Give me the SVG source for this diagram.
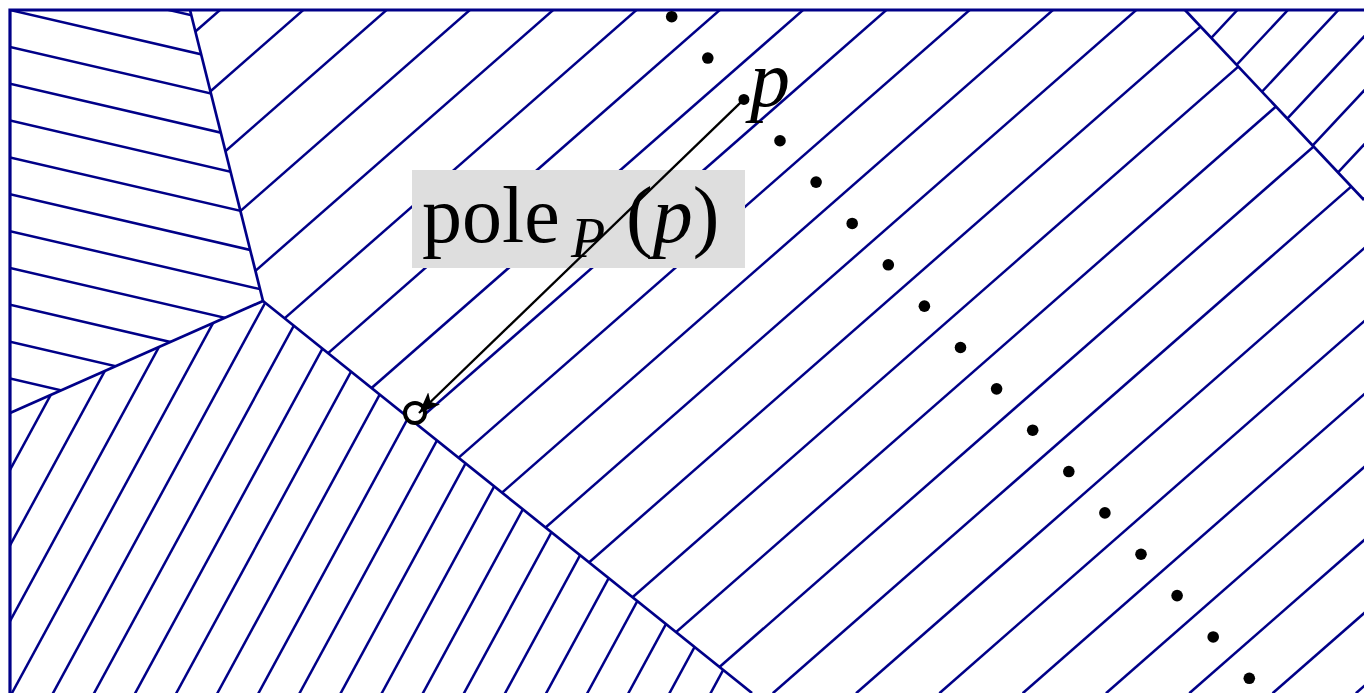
<svg xmlns="http://www.w3.org/2000/svg" width="1364" height="693" viewBox="0 0 1364 693">
<style>
.h{stroke:#000088;stroke-width:2.5;fill:none}
.b{stroke:#000088;stroke-width:2.7;fill:none}
.fr{stroke:#000088;stroke-width:3.2;fill:none}
.t{font-family:"Liberation Serif","Times New Roman",serif;fill:#000}
.dot{fill:#000}
</style>
<defs>
<clipPath id="cR1"><polygon points="10,10 190,10 263,301 10,413"/></clipPath>
<clipPath id="cR2"><polygon points="190,10 1185,10 1364,200 1364,693 752,693 263,301"/></clipPath>
<clipPath id="cR3"><polygon points="10,413 263,301 752,693 10,693"/></clipPath>
<clipPath id="cR4"><polygon points="1185,10 1364,10 1364,200"/></clipPath>
<marker id="ah" markerUnits="userSpaceOnUse" markerWidth="24" markerHeight="18" refX="21" refY="8.5" orient="auto">
<path d="M0,0 L21,8.5 L0,17 L5,8.5 Z" fill="#000"/>
</marker>
</defs>
<rect width="1364" height="693" fill="#fff"/>
<g id="region1" class="h" clip-path="url(#cR1)">
<line x1="10" y1="-26.85" x2="280" y2="35.79"/>
<line x1="10" y1="10" x2="280" y2="72.64"/>
<line x1="10" y1="46.85" x2="280" y2="109.49"/>
<line x1="10" y1="83.7" x2="280" y2="146.34"/>
<line x1="10" y1="120.55" x2="280" y2="183.19"/>
<line x1="10" y1="157.4" x2="280" y2="220.04"/>
<line x1="10" y1="194.25" x2="280" y2="256.89"/>
<line x1="10" y1="231.1" x2="280" y2="293.74"/>
<line x1="10" y1="267.95" x2="280" y2="330.59"/>
<line x1="10" y1="304.8" x2="280" y2="367.44"/>
<line x1="10" y1="341.65" x2="280" y2="404.29"/>
<line x1="10" y1="378.5" x2="280" y2="441.14"/>
</g>
<g id="region2" class="h" clip-path="url(#cR2)">
<line x1="231.4" y1="0" x2="-560" y2="693.3"/>
<line x1="314.7" y1="0" x2="-476.7" y2="693.3"/>
<line x1="398" y1="0" x2="-393.4" y2="693.3"/>
<line x1="481.3" y1="0" x2="-310.1" y2="693.3"/>
<line x1="564.6" y1="0" x2="-226.8" y2="693.3"/>
<line x1="647.9" y1="0" x2="-143.5" y2="693.3"/>
<line x1="731.2" y1="0" x2="-60.2" y2="693.3"/>
<line x1="814.5" y1="0" x2="23.1" y2="693.3"/>
<line x1="897.8" y1="0" x2="106.4" y2="693.3"/>
<line x1="981.1" y1="0" x2="189.7" y2="693.3"/>
<line x1="1064.4" y1="0" x2="273" y2="693.3"/>
<line x1="1147.7" y1="0" x2="356.3" y2="693.3"/>
<line x1="1231" y1="0" x2="439.6" y2="693.3"/>
<line x1="1314.3" y1="0" x2="522.9" y2="693.3"/>
<line x1="1397.6" y1="0" x2="606.2" y2="693.3"/>
<line x1="1480.9" y1="0" x2="689.5" y2="693.3"/>
<line x1="1564.2" y1="0" x2="772.8" y2="693.3"/>
<line x1="1647.5" y1="0" x2="856.1" y2="693.3"/>
<line x1="1730.8" y1="0" x2="939.4" y2="693.3"/>
<line x1="1814.1" y1="0" x2="1022.7" y2="693.3"/>
<line x1="1897.4" y1="0" x2="1106" y2="693.3"/>
<line x1="1980.7" y1="0" x2="1189.3" y2="693.3"/>
<line x1="2064" y1="0" x2="1272.6" y2="693.3"/>
<line x1="2147.3" y1="0" x2="1355.9" y2="693.3"/>
</g>
<g id="region3" class="h" clip-path="url(#cR3)">
<line x1="-114.3" y1="698.5" x2="113.7" y2="279"/>
<line x1="-73.2" y1="698.5" x2="154.8" y2="279"/>
<line x1="-32.1" y1="698.5" x2="195.9" y2="279"/>
<line x1="9" y1="698.5" x2="237" y2="279"/>
<line x1="50.1" y1="698.5" x2="278.1" y2="279"/>
<line x1="91.2" y1="698.5" x2="319.2" y2="279"/>
<line x1="132.3" y1="698.5" x2="360.3" y2="279"/>
<line x1="173.4" y1="698.5" x2="401.4" y2="279"/>
<line x1="214.5" y1="698.5" x2="442.5" y2="279"/>
<line x1="255.6" y1="698.5" x2="483.6" y2="279"/>
<line x1="296.7" y1="698.5" x2="524.7" y2="279"/>
<line x1="337.8" y1="698.5" x2="565.8" y2="279"/>
<line x1="378.9" y1="698.5" x2="606.9" y2="279"/>
<line x1="420" y1="698.5" x2="648" y2="279"/>
<line x1="461.1" y1="698.5" x2="689.1" y2="279"/>
<line x1="502.2" y1="698.5" x2="730.2" y2="279"/>
<line x1="543.3" y1="698.5" x2="771.3" y2="279"/>
<line x1="584.4" y1="698.5" x2="812.4" y2="279"/>
<line x1="625.5" y1="698.5" x2="853.5" y2="279"/>
<line x1="666.6" y1="698.5" x2="894.6" y2="279"/>
<line x1="707.7" y1="698.5" x2="935.7" y2="279"/>
</g>
<g id="region4" class="h" clip-path="url(#cR4)">
<line x1="1247" y1="-0.3" x2="987" y2="277.8"/>
<line x1="1297.5" y1="-0.3" x2="1037.5" y2="277.8"/>
<line x1="1348" y1="-0.3" x2="1088" y2="277.8"/>
<line x1="1398.5" y1="-0.3" x2="1138.5" y2="277.8"/>
<line x1="1449" y1="-0.3" x2="1189" y2="277.8"/>
<line x1="1499.5" y1="-0.3" x2="1239.5" y2="277.8"/>
<line x1="1550" y1="-0.3" x2="1290" y2="277.8"/>
</g>
<g id="boundaries" class="b">
<line x1="190" y1="10" x2="263" y2="301"/>
<line x1="263" y1="301" x2="10" y2="413"/>
<line x1="263" y1="301" x2="752" y2="693"/>
<line x1="1185" y1="10" x2="1364" y2="200"/>
</g>
<path id="frame" class="fr" d="M10,693 V10 H1364"/>
<g id="label">
<rect x="412" y="170" width="333" height="98" fill="#dedede"/>
<text class="t" x="422" y="242" font-size="80">pole</text>
<text class="t" x="571" y="257" font-size="56" font-style="italic">P</text>
<text class="t" x="626" y="242" font-size="80">(<tspan font-style="italic">p</tspan>)</text>
</g>
<g id="pole">
<circle cx="415" cy="413" r="10" fill="#fff" stroke="#000" stroke-width="4"/>
</g>
<g id="connectors">
<line x1="743.9" y1="99.4" x2="419" y2="413" stroke="#000" stroke-width="2.3" marker-end="url(#ah)"/>
</g>
<g id="point-p">
<circle class="dot" cx="743.9" cy="99.4" r="5.5"/>
<text class="t" x="750" y="106" font-size="80" font-style="italic">p</text>
</g>
<g id="dots" class="dot">
<circle cx="671.7" cy="16.7" r="5.8"/>
<circle cx="707.8" cy="58.05" r="5.8"/>
<circle cx="780" cy="140.75" r="5.8"/>
<circle cx="816.1" cy="182.1" r="5.8"/>
<circle cx="852.2" cy="223.45" r="5.8"/>
<circle cx="888.3" cy="264.8" r="5.8"/>
<circle cx="924.4" cy="306.15" r="5.8"/>
<circle cx="960.5" cy="347.5" r="5.8"/>
<circle cx="996.6" cy="388.85" r="5.8"/>
<circle cx="1032.7" cy="430.2" r="5.8"/>
<circle cx="1068.8" cy="471.55" r="5.8"/>
<circle cx="1104.9" cy="512.9" r="5.8"/>
<circle cx="1141" cy="554.25" r="5.8"/>
<circle cx="1177.1" cy="595.6" r="5.8"/>
<circle cx="1213.2" cy="636.95" r="5.8"/>
<circle cx="1249.3" cy="678.3" r="5.8"/>
</g>
</svg>
